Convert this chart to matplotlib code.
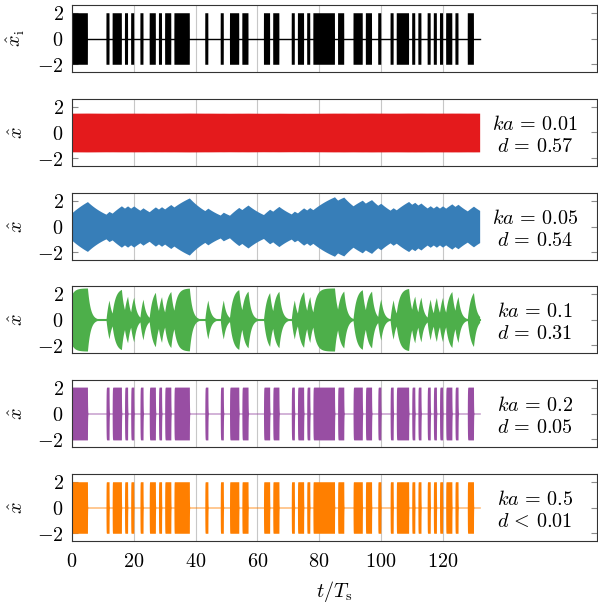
import numpy as np
import matplotlib
matplotlib.use("Agg")
import matplotlib.pyplot as plt

plt.rcParams["mathtext.fontset"] = "cm"
plt.rcParams["font.family"] = "serif"

# === DATA ===
n_symbols = 132
# symbols where the input bit is 1 (all others are 0)
one_symbols = [0, 1, 2, 3, 4, 11, 13, 14, 15, 17, 19, 22, 25, 26, 28, 30, 31,
               33, 34, 35, 36, 37, 43, 48, 51, 52, 53, 55, 56, 62, 63, 65, 66,
               71, 73, 74, 76, 78, 79, 80, 81, 82, 83, 84, 86, 87, 91, 92, 93,
               95, 96, 99, 103, 105, 106, 107, 108, 110, 112, 115, 117, 119,
               121, 122, 124, 128, 129]

ka_labels = ["0.01", "0.05", "0.1", "0.2", "0.5"]
d_labels = ["= 0.57", "= 0.54", "= 0.31", "= 0.05", "< 0.01"]
colors = ["#e41a1c", "#377eb8", "#4daf4a", "#984ea3", "#ff7f00"]

# envelope response of each receiver
env_gain = [3.0, 3.5, 2.45, 2.05, 2.0]
env_rise = [0.001, 0.087, 0.95, 25.0, 40.0]     # per symbol
env_decay = [0.001, 0.117, 1.1, 25.0, 40.0]    # per symbol
env_start = [1.5, 1.08, 2.0, 2.0, 2.0]

# === BUILD SIGNALS ===
bits = np.zeros(n_symbols)
bits[one_symbols] = 1

steps = 40
t = np.arange(n_symbols * steps + 1) / steps
idx = np.minimum((t * steps).astype(int) // steps, n_symbols - 1)
b_t = bits[idx]


def envelope(gain, rise, decay, start):
    a = start
    out = np.empty_like(t)
    kr = 1 - np.exp(-rise / steps)
    kd = np.exp(-decay / steps)
    for i in range(len(t)):
        out[i] = a
        if b_t[i] > 0:
            a = a + (gain - a) * kr
        else:
            a = a * kd
    return out


# === LAYOUT ===
W, H = 598, 605
fig = plt.figure(figsize=(W / 100, H / 100), dpi=100)
left, right = 72, 597
panel_h = 67
tops = [5, 99, 193, 286, 380, 474]
axes = []
for top in tops:
    ax = fig.add_axes([left / W, 1 - (top + panel_h) / H,
                       (right - left) / W, panel_h / H])
    axes.append(ax)

fs = 14.5
for i, ax in enumerate(axes):
    ax.set_xlim(0, 170)
    ax.set_ylim(-2.6, 2.6)
    ax.set_xticks(range(0, 121, 20))
    ax.set_yticks([-2, 0, 2], ["$-2$", "$0$", "$2$"], fontsize=fs)
    ax.grid(axis="x", color="0.78", lw=0.8)
    ax.set_axisbelow(True)
    ax.tick_params(axis="y", direction="in", length=4, color="0.55",
                   right=True, pad=6)
    ax.tick_params(axis="x", length=0, pad=8)
    for sp in ax.spines.values():
        sp.set_color("0.2")
        sp.set_linewidth(0.8)
    if i < 5:
        ax.set_xticklabels([])
    else:
        ax.set_xticklabels(["$%d$" % v for v in range(0, 121, 20)], fontsize=fs)
        ax.set_xlabel(r"$t/T_\mathrm{s}$", fontsize=fs, labelpad=6)
    ax.yaxis.set_label_coords(-0.086, 0.5)

# input signal
ax = axes[0]
ax.fill_between(t, -2 * b_t, 2 * b_t, color="black", lw=0)
ax.plot([0, n_symbols], [0, 0], color="black", lw=1.0)
ax.set_ylabel(r"$\hat{x}_\mathrm{i}$", fontsize=fs)

# receiver outputs
for k in range(5):
    ax = axes[k + 1]
    env = envelope(env_gain[k], env_rise[k], env_decay[k], env_start[k])
    c = colors[k]
    ax.fill_between(t, -env, env, color=c, lw=0)
    if k == 2:
        ax.plot([0, n_symbols], [0, 0], color=c, lw=1.5)
    elif k >= 3:
        ax.plot([0, n_symbols], [0, 0], color=c, lw=1.2, alpha=0.5)
    ax.set_ylabel(r"$\hat{x}$", fontsize=fs)
    ax.text(0.882, 0.45, r"$ka\,=\,%s$" "\n" r"$d\,%s$" % (ka_labels[k], d_labels[k].replace(" ", r"\,")),
            transform=ax.transAxes, ha="center", va="center", fontsize=fs,
            linespacing=1.2)

fig.savefig("out.png", dpi=100)
